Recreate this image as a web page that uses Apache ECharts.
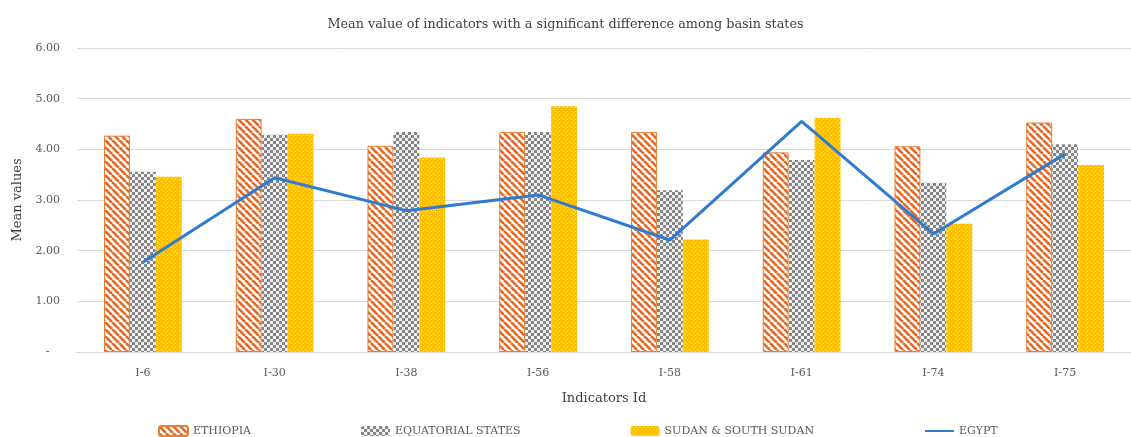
<!DOCTYPE html>
<html><head><meta charset="utf-8">
<script src="https://cdn.jsdelivr.net/npm/echarts@6/dist/echarts.min.js"></script>
<style>html,body{margin:0;padding:0;background:#fff}#c{width:1131px;height:437px}</style>
</head><body><div id="c"></div>
<script>
const categories = ['I-6','I-30','I-38','I-56','I-58','I-61','I-74','I-75'];
const ethiopia = [4.27, 4.60, 4.07, 4.34, 4.34, 3.94, 4.06, 4.53];
const equatorial = [3.56, 4.29, 4.34, 4.34, 3.19, 3.79, 3.34, 4.10];
const sudan = [3.46, 4.31, 3.84, 4.85, 2.22, 4.62, 2.53, 3.69];
const egypt = [1.77, 3.44, 2.79, 3.10, 2.21, 4.55, 2.33, 3.91];
const yTicks = [0, 1, 2, 3, 4, 5, 6];

function tile(size, draw){const c=document.createElement('canvas');c.width=size;c.height=size;const g=c.getContext('2d');draw(g,size);return c;}
const stripe = tile(7,(g,s)=>{g.fillStyle='#fff';g.fillRect(0,0,s,s);g.strokeStyle='#E9661F';g.lineWidth=2.6;g.beginPath();for(const o of [-s,0,s]){g.moveTo(o,0);g.lineTo(o+s,s);}g.stroke();});
const checker = tile(6,(g,s)=>{g.fillStyle='#f2f2f2';g.fillRect(0,0,s,s);g.fillStyle='#858585';g.fillRect(0,0,3,3);g.fillRect(3,3,3,3);});
const dots = tile(4,(g,s)=>{g.fillStyle='#FFC000';g.fillRect(0,0,s,s);g.fillStyle='#FFE27A';g.fillRect(1,1,1,1);g.fillRect(3,3,1,1);});

const font = '"DejaVu Serif", "Liberation Serif", serif';
const chart = echarts.init(document.getElementById('c'), null, {renderer:'canvas'});
chart.setOption({
  animation:false,
  title:{text:'Mean value of indicators with a significant difference among basin states',left:'center',top:13,textStyle:{fontFamily:font,fontSize:12.8,fontWeight:'normal',color:'#404040'}},
  grid:{left:77,top:48,width:1063,height:304,containLabel:false},
  legend:{top:420,left:153,itemGap:110,itemWidth:29,itemHeight:10,textStyle:{fontFamily:font,fontSize:11,color:'#595959'},
    data:[{name:'ETHIOPIA'},{name:'EQUATORIAL STATES'},{name:'SUDAN & SOUTH SUDAN'},{name:'EGYPT',itemStyle:{opacity:0}}]},
  xAxis:{type:'category',data:categories,axisTick:{show:false},axisLine:{lineStyle:{color:'#d9d9d9'}},
    axisLabel:{fontFamily:font,fontSize:11,color:'#595959',margin:16},
    name:'Indicators Id',nameLocation:'middle',nameGap:40,nameTextStyle:{fontFamily:font,fontSize:13,color:'#404040'}},
  yAxis:{type:'value',min:yTicks[0],max:yTicks[yTicks.length-1],interval:1,
    axisLabel:{fontFamily:font,fontSize:11,color:'#595959',margin:17,formatter:v=>v===0?'-   ':v.toFixed(2)},
    splitLine:{lineStyle:{color:'#d9d9d9'}},axisLine:{show:false},axisTick:{show:false},
    name:'Mean values',nameLocation:'middle',nameGap:53,nameTextStyle:{fontFamily:font,fontSize:13,color:'#404040'}},
  series:[
    {name:'ETHIOPIA',type:'bar',data:ethiopia,barGap:'0%',barCategoryGap:'41%',itemStyle:{color:{image:stripe,repeat:'repeat'},borderColor:'#ED7D31',borderWidth:1}},
    {name:'EQUATORIAL STATES',type:'bar',data:equatorial,barGap:'0%',barCategoryGap:'41%',itemStyle:{color:{image:checker,repeat:'repeat'}}},
    {name:'SUDAN & SOUTH SUDAN',type:'bar',data:sudan,barGap:'0%',barCategoryGap:'41%',itemStyle:{color:{image:dots,repeat:'repeat'}}},
    {name:'EGYPT',type:'line',data:egypt,symbol:'none',lineStyle:{color:'#2E7BCF',width:3},itemStyle:{color:'#2E7BCF'}}
  ]
});
</script></body></html>
